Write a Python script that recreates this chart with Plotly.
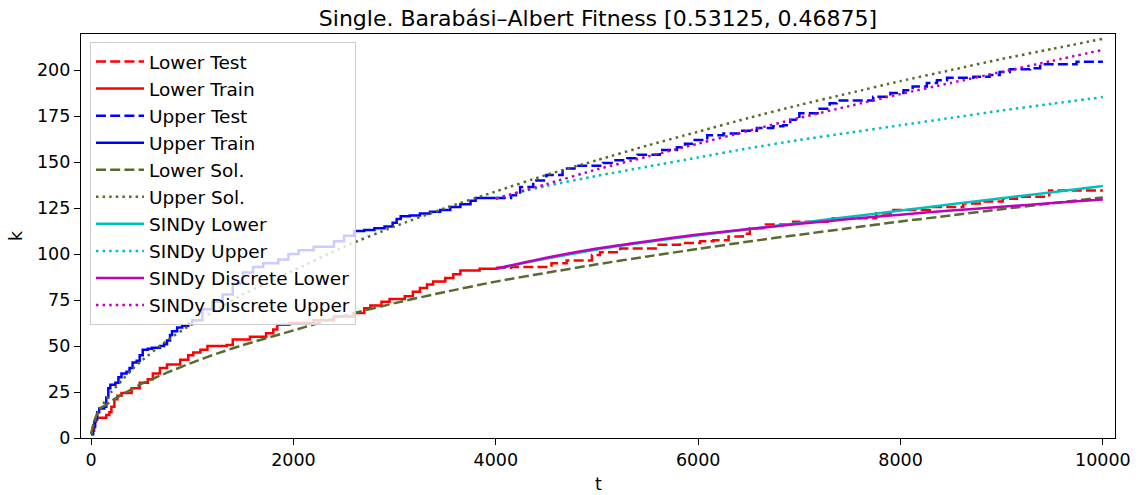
import plotly.graph_objects as go

# ---------------- data ----------------
t_lower_train = [0, 10, 30, 50, 150, 180, 200, 230, 260, 300, 400, 480, 560, 610, 680, 750, 880, 960,
                 1010, 1080, 1150, 1340, 1400, 1570, 1730, 1800, 1840, 1960, 2200, 2400, 2600, 2700,
                 2760, 2870, 2950, 3100, 3180, 3250, 3320, 3380, 3500, 3580, 3650, 3840, 4000]
k_lower_train = [2, 4, 9, 11, 12.5, 14, 17, 21, 23, 24.5, 27, 30, 32, 35, 38, 40, 42.5, 45,
                 46.5, 48, 50, 50.5, 53.5, 55, 57, 59, 61.5, 62.5, 64, 66, 68, 70.5,
                 72, 74, 75.5, 77, 79.5, 81.5, 83.5, 85, 87, 89, 91, 92, 92.5]

t_lower_test = [4000, 4150, 4550, 4700, 4950, 5030, 5230, 5580, 5820, 6020, 6150, 6300, 6440, 6510,
                6670, 6940, 7330, 7760, 7930, 8290, 8620, 8820, 9010, 9150, 9470, 10000]
k_lower_test = [92.5, 93, 95, 96.5, 99.5, 101, 103, 105, 106, 107, 107.5, 109.5, 111, 114,
                116, 117.5, 119.5, 122, 124, 125.5, 127.5, 128.5, 130, 131.2, 134.5, 134.5]

t_upper_train = [0, 20, 40, 60, 80, 130, 150, 170, 190, 240, 270, 300, 350, 380, 410, 450, 480, 510,
                 560, 600, 680, 720, 750, 780, 800, 850, 900, 960, 1000, 1100, 1200, 1300, 1400, 1500,
                 1600, 1700, 1850, 1950, 2050, 2200, 2400, 2500, 2600, 2700, 2800, 2900, 2980, 3020,
                 3060, 3150, 3250, 3350, 3450, 3550, 3650, 3750, 3800, 4000]
k_upper_train = [2, 6, 10, 14, 16, 17, 22, 27, 29, 30, 33, 35, 36, 38, 41, 42, 45, 48,
                 48.5, 49, 50, 51, 53, 56, 58, 60, 61, 62, 64, 70, 74, 78, 84, 90,
                 93, 95, 97, 100, 102, 104, 107, 110, 112.5, 113, 114, 115, 117, 119,
                 120.5, 121, 122, 123, 124, 125.5, 127, 129, 130.5, 130.5]

t_upper_test = [4000, 4150, 4240, 4370, 4500, 4660, 4800, 5060, 5160, 5300, 5400, 5620, 5790, 5870,
                5950, 6090, 6250, 6410, 6580, 6740, 6840, 6910, 7000, 7200, 7300, 7370, 7730, 7900,
                8030, 8120, 8260, 8360, 8460, 8720, 8880, 8980, 9080, 9280, 9380, 9740, 10000]
k_upper_test = [130.5, 132, 136.5, 140, 143, 146.5, 148, 149.5, 151, 152, 154, 156.5, 158, 160,
                162, 164.5, 165.5, 167, 168.5, 169.5, 170, 173, 176.5, 179, 182, 183.5, 185.5, 187.5,
                189, 191, 193, 194.5, 195.8, 196.4, 197.3, 199, 200.4, 201, 203.2, 204.5, 204.5]

t_sol = [0, 25, 50, 80, 100, 150, 200, 300, 400, 500, 750, 1000, 1250, 1500, 2000, 2500, 3000, 3500,
         4000, 4500, 5000, 5500, 6000, 6500, 7000, 7500, 8000, 8500, 9000, 9500, 10000]
k_lower_sol = [2, 8, 12, 15.5, 16.5, 18, 20, 23.5, 26.5, 29.5, 35.5, 41, 46, 50.5, 58.5, 66.5, 73.3, 79.4,
               85, 89.8, 94.4, 98.7, 102.8, 106.8, 110.5, 114.1, 117.7, 121, 124.4, 127.6, 130.8]
k_upper_sol = [2, 7, 11, 15, 17, 21, 25, 31, 37, 42, 53, 62, 70, 78, 91, 104, 115, 125,
               134, 143, 151, 159, 166.5, 174, 181, 187.5, 194, 200, 206, 211.5, 217]

t_sindy = [4000, 4500, 5000, 5500, 6000, 6500, 7000, 7500, 8000, 8500, 9000, 9500, 10000]
k_sindy_lower = [92, 97.5, 102.5, 106.5, 110.2, 113.5, 116.9, 120.3, 123.6, 127, 130.3, 133.6, 137]
k_sindy_upper = [130.5, 137, 142.5, 147.5, 152.5, 157.5, 162, 166, 170, 174, 178, 181.7, 185.3]
k_disc_lower = [92, 98, 103, 107, 110.6, 113.6, 116.4, 119, 121.4, 123.6, 125.7, 127.7, 129.6]
k_disc_upper = [130, 138, 146, 153, 160, 167, 174, 180.5, 187, 193, 199, 205, 211]

x_ticks = [0, 2000, 4000, 6000, 8000, 10000]
y_ticks = [0, 25, 50, 75, 100, 125, 150, 175, 200]

TITLE = "Single. Barabási–Albert Fitness [0.53125, 0.46875]"
X_LABEL = "t"
Y_LABEL = "k"

# ---------------- styles ----------------
RED, BLUE, OLIVE, CYAN, MAG = "#ff0000", "#0000ff", "#556b2f", "#00bfbf", "#bf00bf"
DASH = "10px,4.2px"
DOT = "2.5px,4.1px"
LW = 2.5

series = [
    ("Lower Test", t_lower_test, k_lower_test, RED, DASH, "hv"),
    ("Lower Train", t_lower_train, k_lower_train, RED, "solid", "hv"),
    ("Upper Test", t_upper_test, k_upper_test, BLUE, DASH, "hv"),
    ("Upper Train", t_upper_train, k_upper_train, BLUE, "solid", "hv"),
    ("Lower Sol.", t_sol, k_lower_sol, OLIVE, DASH, "spline"),
    ("Upper Sol.", t_sol, k_upper_sol, OLIVE, DOT, "spline"),
    ("SINDy Lower", t_sindy, k_sindy_lower, CYAN, "solid", "spline"),
    ("SINDy Upper", t_sindy, k_sindy_upper, CYAN, DOT, "spline"),
    ("SINDy Discrete Lower", t_sindy, k_disc_lower, MAG, "solid", "spline"),
    ("SINDy Discrete Upper", t_sindy, k_disc_upper, MAG, DOT, "spline"),
]

fig = go.Figure()
for i, (name, xs, ys, col, dash, shape) in enumerate(series):
    fig.add_trace(go.Scatter(
        x=xs, y=ys, mode="lines", name=name, legendgroup=f"g{i}",
        line=dict(color=col, width=LW, dash=dash, shape=shape,
                  **({"smoothing": 0.6} if shape == "spline" else {})),
    ))

FONT = "DejaVu Sans"
axis_common = dict(
    showline=True, linecolor="black", linewidth=1.4, mirror=True,
    ticks="outside", ticklen=6, tickwidth=1.4, tickcolor="black",
    showgrid=False, zeroline=False, automargin=False,
    tickfont=dict(family=FONT, size=17.5, color="black"),
)

W, H = 1141, 495
ML, MR, MT, MB = 81, 26, 34, 57
PW, PH = W - ML - MR, H - MT - MB

fig.update_layout(
    width=W, height=H,
    margin=dict(l=ML, r=MR, t=MT, b=MB, autoexpand=False),
    paper_bgcolor="white", plot_bgcolor="white",
    title=dict(text=TITLE, x=0.5, xref="paper", xanchor="center",
               y=1 - 18 / H, yanchor="middle",
               font=dict(family=FONT, size=22, color="black")),
    xaxis=dict(range=[-100, 10120], tickvals=x_ticks, tickformat="d", **axis_common),
    yaxis=dict(range=[0, 219.6], tickvals=y_ticks, tickformat="d", **axis_common),
    legend=dict(x=9 / PW, y=1 - 8 / PH, xanchor="left", yanchor="top",
                bgcolor="rgba(255,255,255,0.8)", bordercolor="#cccccc", borderwidth=1,
                font=dict(family=FONT, size=18.5, color="black"),
                traceorder="grouped", tracegroupgap=0, itemwidth=48),
    showlegend=True,
    annotations=[
        dict(text=X_LABEL, xref="paper", yref="paper", x=0.5, y=-(484 - (MT + PH)) / PH,
             xanchor="center", yanchor="middle", showarrow=False,
             font=dict(family=FONT, size=17.5, color="black")),
        dict(text=Y_LABEL, xref="paper", yref="paper", x=(16 - ML) / PW, y=0.5,
             xanchor="center", yanchor="middle", showarrow=False, textangle=-90,
             font=dict(family=FONT, size=17.5, color="black")),
    ],
)

fig.write_html("out.html", config={"displayModeBar": False},
               post_script="document.body.style.margin='0px';")
